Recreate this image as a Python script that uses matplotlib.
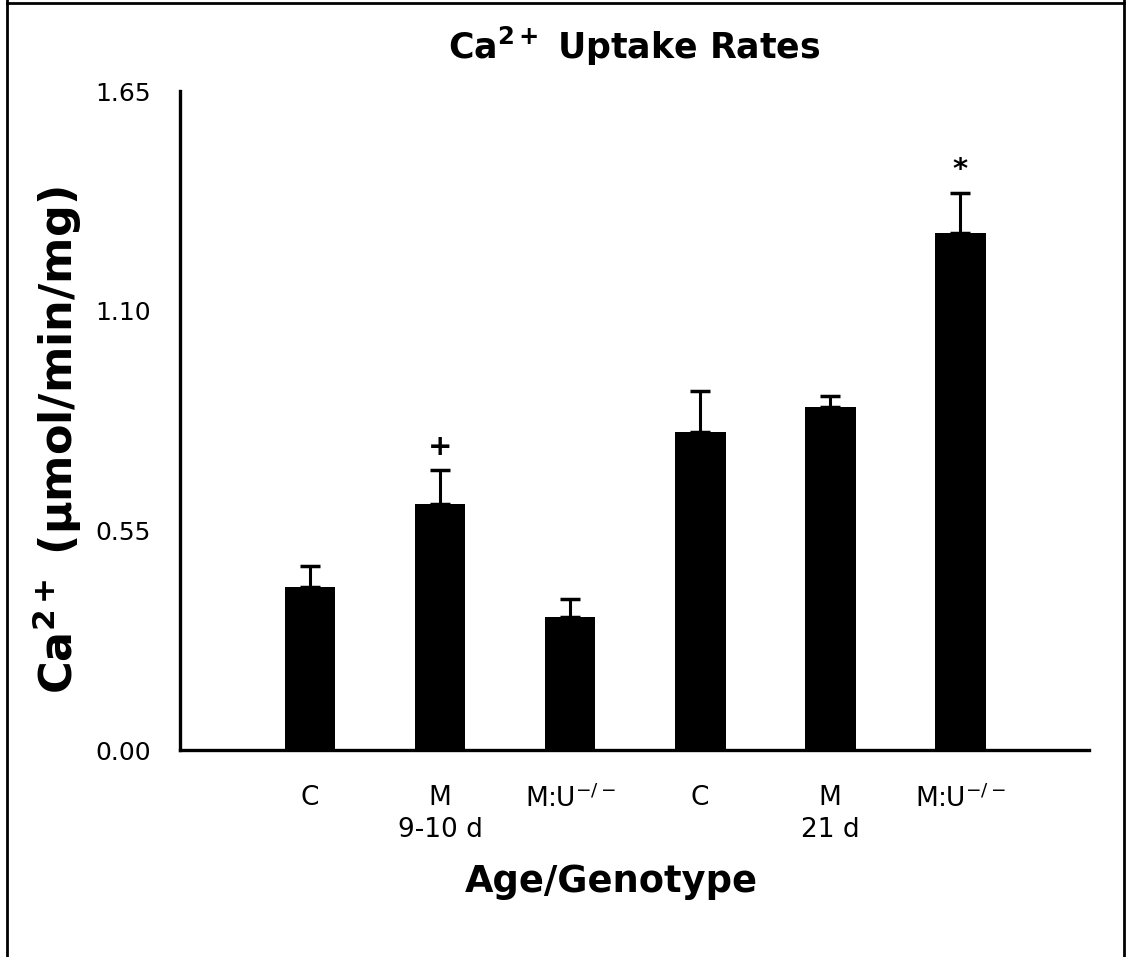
import matplotlib.pyplot as plt
import numpy as np
from matplotlib.lines import Line2D

plt.rcParams["font.family"] = ["DejaVu Sans"]
plt.rcParams["mathtext.default"] = "regular"

# Ca2+ uptake rates per age/genotype group
groups = ["C", "M\n9-10 d", "M:U$^{-/-}$", "C", "M\n21 d", "M:U$^{-/-}$"]
means = [0.408, 0.616, 0.333, 0.796, 0.859, 1.294]
errors = [0.053, 0.086, 0.045, 0.103, 0.028, 0.101]
marks = ["", "+", "", "", "", "*"]
yticks = [0.00, 0.55, 1.10, 1.65]

fig = plt.figure(figsize=(11.27, 9.57), dpi=100)
ax = fig.add_axes([180 / 1127, 207 / 957, 909 / 1127, 659 / 957])

x = np.arange(len(means))
ax.bar(x, means, width=0.39, color="black", zorder=2)
ax.errorbar(x, means, yerr=[np.zeros(len(errors)), errors], fmt="none",
            ecolor="black", elinewidth=2.2, capsize=7.5, capthick=2.5, zorder=1)

for xi, m, e, s in zip(x, means, errors, marks):
    if s:
        ax.text(xi, m + e + 0.022, s, ha="center", va="bottom",
                fontsize=21, fontweight="bold")

ax.set_xlim(-1.0, 5.99)
ax.set_ylim(0, 1.65)
ax.set_yticks(yticks)
ax.set_yticklabels([f"{v:.2f}" for v in yticks], fontsize=18)
ax.set_xticks(x)
ax.set_xticklabels(groups, fontsize=19, linespacing=1.3, va="top")
ax.tick_params(axis="y", length=0, pad=21)
ax.tick_params(axis="x", length=0, pad=25)

for side in ["top", "right"]:
    ax.spines[side].set_visible(False)
for side in ["left", "bottom"]:
    ax.spines[side].set_linewidth(2.4)

ax.set_xlabel("Age/Genotype", fontsize=26.5, fontweight="bold")
ax.xaxis.set_label_coords(0.474, -0.172)
ax.set_ylabel("Ca$^{2+}$ (\u00b5mol/min/mg)", fontsize=32, fontweight="bold")
ax.yaxis.set_label_coords(-0.106, 0.47)
ax.set_title("Ca$^{2+}$ Uptake Rates", fontsize=25, fontweight="bold", pad=23)

# outer frame round the picture
for xs, ys in [([7, 7], [0, 957]), ([7, 1124], [954, 954]), ([1124, 1124], [0, 957])]:
    fig.add_artist(Line2D(np.array(xs) / 1127, np.array(ys) / 957,
                          color="black", linewidth=2.0))

fig.savefig("out.png", dpi=100)
